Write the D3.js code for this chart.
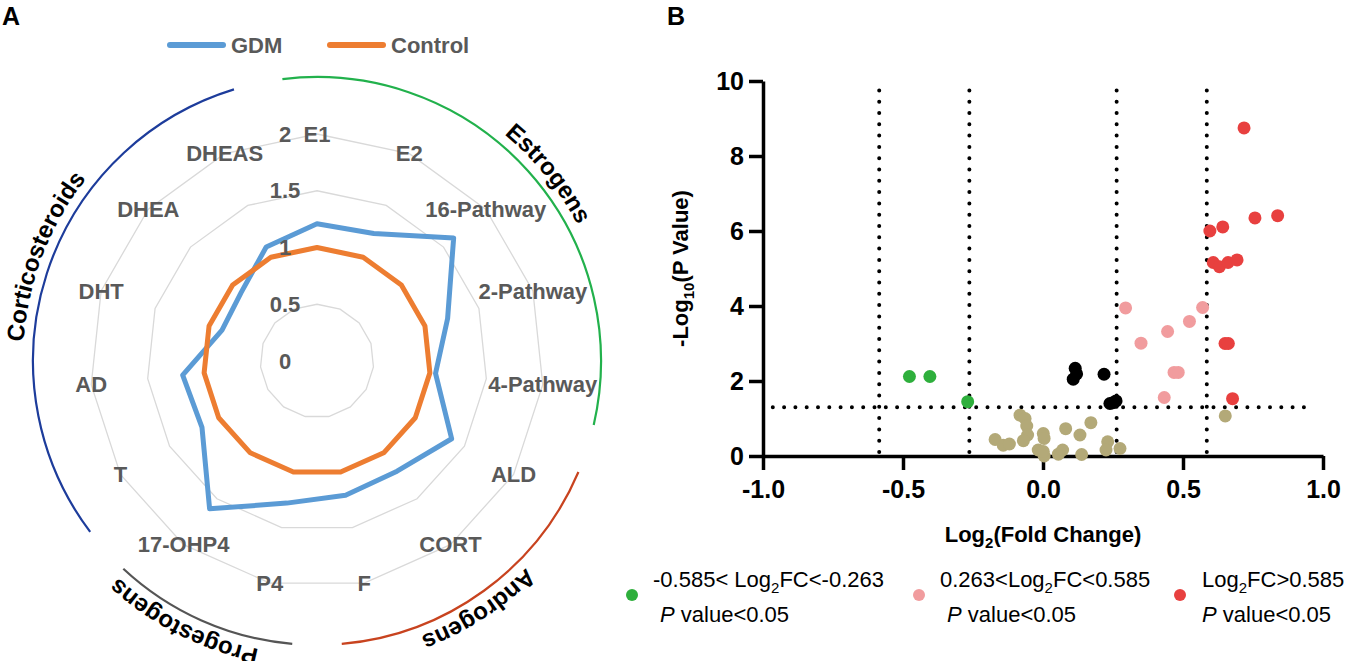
<!DOCTYPE html>
<html>
<head>
<meta charset="utf-8">
<script src="https://cdn.jsdelivr.net/npm/d3@7"></script>
<style>
  body { margin: 0; background: #fff; }
  svg { font-family: "Liberation Sans", Arial, sans-serif; }
</style>
</head>
<body>
<svg id="chart" width="1358" height="661"></svg>
<script>
// ---- panel A data (radar) ----
const categories = ["E1", "E2", "16-Pathway", "2-Pathway", "4-Pathway", "ALD", "CORT", "F",
                    "P4", "17-OHP4", "T", "AD", "DHT", "DHEA", "DHEAS"];
const gdmValues = [1.21, 1.23, 1.62, 1.21, 1.05, 1.37, 1.20, 1.21, 1.28, 1.61, 1.17, 1.19, 0.88, 0.90, 1.10];
const controlValues = [1.00, 1.00, 1.00, 1.00, 1.00, 1.00, 1.00, 1.00, 1.00, 1.00, 1.00, 1.00, 1.00, 1.00, 1.00];
const radarTicks = [0, 0.5, 1, 1.5, 2];
const seriesNames = ["GDM", "Control"];
const groupNames = ["Estrogens", "Androgens", "Progestogens", "Corticosteroids"];
const groupFirst = ["E1", "ALD", "P4", "T"];
const groupLast = ["4-Pathway", "F", "17-OHP4", "DHEAS"];

// ---- panel B data (volcano), [log2FC, -log10 P] ----
const greenPts = [[-0.477, 2.12], [-0.404, 2.12], [-0.269, 1.45]];
const pinkPts = [[0.295, 3.95], [0.570, 3.96], [0.523, 3.59], [0.445, 3.32], [0.350, 3.01],
                 [0.468, 2.23], [0.483, 2.23], [0.433, 1.56]];
const redPts = [[0.718, 8.75], [0.596, 6.00], [0.642, 6.11], [0.757, 6.35], [0.838, 6.41],
                [0.608, 5.16], [0.630, 5.05], [0.661, 5.16], [0.693, 5.23],
                [0.650, 3.00], [0.662, 3.00], [0.677, 1.53]];
const blackPts = [[0.115, 2.34], [0.120, 2.19], [0.108, 2.05], [0.218, 2.18], [0.239, 1.40], [0.261, 1.47], [0.250, 1.42]];
const olivePts = [[-0.082, 1.09], [-0.064, 1.00], [-0.058, 0.80], [-0.055, 0.56], [-0.070, 0.41],
                  [-0.171, 0.44], [-0.142, 0.29], [-0.120, 0.32], [0.001, 0.60], [0.004, 0.47],
                  [-0.017, 0.16], [0.004, 0.00], [0.001, 0.12], [0.055, 0.05], [0.070, 0.16],
                  [0.081, 0.73], [0.132, 0.56], [0.171, 0.89], [0.138, 0.04], [0.231, 0.38],
                  [0.225, 0.16], [0.275, 0.20], [0.651, 1.07]];
const fcCuts = [-0.585, -0.263, 0.263, 0.585];
const pCut = 1.301;
const xTicks = [-1, -0.5, 0, 0.5, 1];
const yTicks = [0, 2, 4, 6, 8, 10];

const svg = d3.select("#chart");
const grey = "#595959";

// panel letters
svg.append("text").attr("x", 2).attr("y", 25).attr("font-size", 25).attr("font-weight", "bold").text("A");
svg.append("text").attr("x", 667).attr("y", 25).attr("font-size", 25).attr("font-weight", "bold").text("B");

// ================= radar =================
const cx = 317, cy = 361;
const r = d3.scaleLinear().domain([0, 2]).range([0, 227]);
const angle = i => i * 2 * Math.PI / categories.length;
const radar = svg.append("g").attr("transform", `translate(${cx},${cy})`);

const radial = d3.lineRadial()
    .angle((d, i) => angle(i))
    .radius(d => r(d))
    .curve(d3.curveLinearClosed);

radar.selectAll(".ring")
    .data(radarTicks.filter(t => t > 0))
    .join("path")
    .attr("fill", "none")
    .attr("stroke", "#d9d9d9")
    .attr("stroke-width", 1.3)
    .attr("d", t => radial(categories.map(() => t)));

radar.selectAll(".cat")
    .data(categories)
    .join("text")
    .attr("x", (d, i) => r(2) * Math.sin(angle(i)))
    .attr("y", (d, i) => -r(2) * Math.cos(angle(i)))
    .attr("dy", "0.35em")
    .attr("text-anchor", "middle")
    .attr("font-size", 22)
    .attr("font-weight", "bold")
    .attr("fill", grey)
    .text(d => d);

const seriesColor = d3.scaleOrdinal().domain(seriesNames).range(["#5b9bd5", "#ed7d31"]);
[gdmValues, controlValues].forEach((vals, k) => {
    radar.append("path")
        .attr("d", radial(vals))
        .attr("fill", "none")
        .attr("stroke", seriesColor(seriesNames[k]))
        .attr("stroke-width", 5)
        .attr("stroke-linejoin", "round");
});

radar.selectAll(".rtick")
    .data(radarTicks)
    .join("text")
    .attr("x", -32)
    .attr("y", d => -r(d))
    .attr("dy", "0.35em")
    .attr("text-anchor", "middle")
    .attr("font-size", 22)
    .attr("font-weight", "bold")
    .attr("fill", grey)
    .text(d => d);

// group arcs with curved labels
const groupColor = d3.scaleOrdinal().domain(groupNames).range(["#22b14c", "#c8431f", "#555555", "#1d3c9b"]);
const arcR = 284, textR = 294, pad = 7 * Math.PI / 180, shift = 3 * Math.PI / 180;
const defs = svg.append("defs");
groupNames.forEach((g, k) => {
    const a0 = angle(categories.indexOf(groupFirst[k])) - pad - Math.PI / 2;
    const a1 = angle(categories.indexOf(groupLast[k])) + pad - Math.PI / 2;
    const p = d3.path();
    p.arc(0, 0, arcR, a0, a1);
    radar.append("path").attr("d", p.toString())
        .attr("fill", "none").attr("stroke", groupColor(g)).attr("stroke-width", 2.2);
    const tp = d3.path();
    tp.arc(0, 0, textR, a0 - 0.4 + shift, a1 + 0.4 + shift);
    defs.append("path").attr("id", "gp" + k)
        .attr("transform", `translate(${cx},${cy})`)
        .attr("d", tp.toString());
    svg.append("text")
        .attr("font-size", 24).attr("font-weight", "bold").attr("fill", "#000")
        .append("textPath")
        .attr("href", "#gp" + k)
        .attr("startOffset", "50%")
        .attr("text-anchor", "middle")
        .text(g);
});

// legend A
const legA = svg.append("g");
[170, 330].forEach((x0, k) => {
    legA.append("line").attr("x1", x0).attr("x2", x0 + 53).attr("y1", 45).attr("y2", 45)
        .attr("stroke", seriesColor(seriesNames[k])).attr("stroke-width", 6).attr("stroke-linecap", "round");
    legA.append("text").attr("x", x0 + 61).attr("y", 45).attr("dy", "0.35em")
        .attr("font-size", 22).attr("font-weight", "bold").attr("fill", grey)
        .text(seriesNames[k]);
});

// ================= volcano =================
const x = d3.scaleLinear().domain([-1, 1]).range([763, 1323]);
const y = d3.scaleLinear().domain([0, 10]).range([456, 81]);

const dotted = g => g.attr("stroke", "#000").attr("stroke-width", 4)
    .attr("stroke-linecap", "round").attr("stroke-dasharray", "0 11.3");

svg.selectAll(".vcut").data(fcCuts).join("line")
    .attr("x1", d => x(d)).attr("x2", d => x(d))
    .attr("y1", y(0) - 4).attr("y2", y(10))
    .call(dotted);
svg.append("line")
    .attr("x1", x(-0.965)).attr("x2", x(0.965))
    .attr("y1", y(pCut)).attr("y2", y(pCut))
    .call(dotted);

const xAxis = svg.append("g").attr("transform", `translate(0,${y(0)})`)
    .call(d3.axisBottom(x).tickValues(xTicks).tickSize(14).tickSizeOuter(0).tickPadding(10)
        .tickFormat(d => d.toFixed(1)));
const yAxis = svg.append("g").attr("transform", `translate(${x(-1)},0)`)
    .call(d3.axisLeft(y).tickValues(yTicks).tickSize(14).tickSizeOuter(0).tickPadding(5));
[xAxis, yAxis].forEach(a => {
    a.select(".domain").attr("stroke-width", 3.5);
    a.selectAll(".tick line").attr("stroke-width", 3.5);
    a.selectAll(".tick text").attr("font-size", 25).attr("font-weight", "bold")
        .attr("font-family", "'Liberation Sans', Arial, sans-serif").attr("fill", "#000");
});

const groups = [
    [olivePts, "#b3a978"],
    [greenPts, "#2eaf3c"],
    [blackPts, "#000000"],
    [pinkPts, "#f19c9e"],
    [redPts, "#e8403f"]
];
groups.forEach(([pts, col]) => {
    svg.append("g").selectAll("circle").data(pts).join("circle")
        .attr("cx", d => x(d[0])).attr("cy", d => y(d[1]))
        .attr("r", 6.5).attr("fill", col);
});

// axis titles
const xt = svg.append("text").attr("x", x(0)).attr("y", 542).attr("text-anchor", "middle")
    .attr("font-size", 22).attr("font-weight", "bold");
xt.append("tspan").text("Log");
xt.append("tspan").attr("font-size", 15).attr("dy", 6).text("2");
xt.append("tspan").attr("dy", -6).text("(Fold Change)");

const yt = svg.append("text").attr("transform", `translate(688,${y(5)}) rotate(-90)`)
    .attr("text-anchor", "middle").attr("font-size", 22).attr("font-weight", "bold");
yt.append("tspan").text("-Log");
yt.append("tspan").attr("font-size", 15).attr("dy", 6).text("10");
yt.append("tspan").attr("dy", -6).text("(P Value)");

// legend B
const legNames = ["-0.585< Log2FC<-0.263", "0.263<Log2FC<0.585", "Log2FC>0.585"];
const legCols = ["#2eaf3c", "#f19c9e", "#e8403f"];
const legDotX = [632, 919, 1180];
const legTextX = [653, 940, 1202];
const legLine2X = [660, 947, 1202];
legNames.forEach((name, k) => {
    svg.append("circle").attr("cx", legDotX[k]).attr("cy", 595).attr("r", 6).attr("fill", legCols[k]);
    const [pre, post] = name.split("Log2");
    const t = svg.append("text").attr("x", legTextX[k]).attr("y", 587).attr("font-size", 22);
    t.append("tspan").text(pre + "Log");
    t.append("tspan").attr("font-size", 15).attr("dy", 6).text("2");
    t.append("tspan").attr("dy", -6).text(post);
    const t2 = svg.append("text").attr("x", legLine2X[k]).attr("y", 622).attr("font-size", 22);
    t2.append("tspan").attr("font-style", "italic").text("P");
    t2.append("tspan").text(" value<0.05");
});
</script>
</body>
</html>
